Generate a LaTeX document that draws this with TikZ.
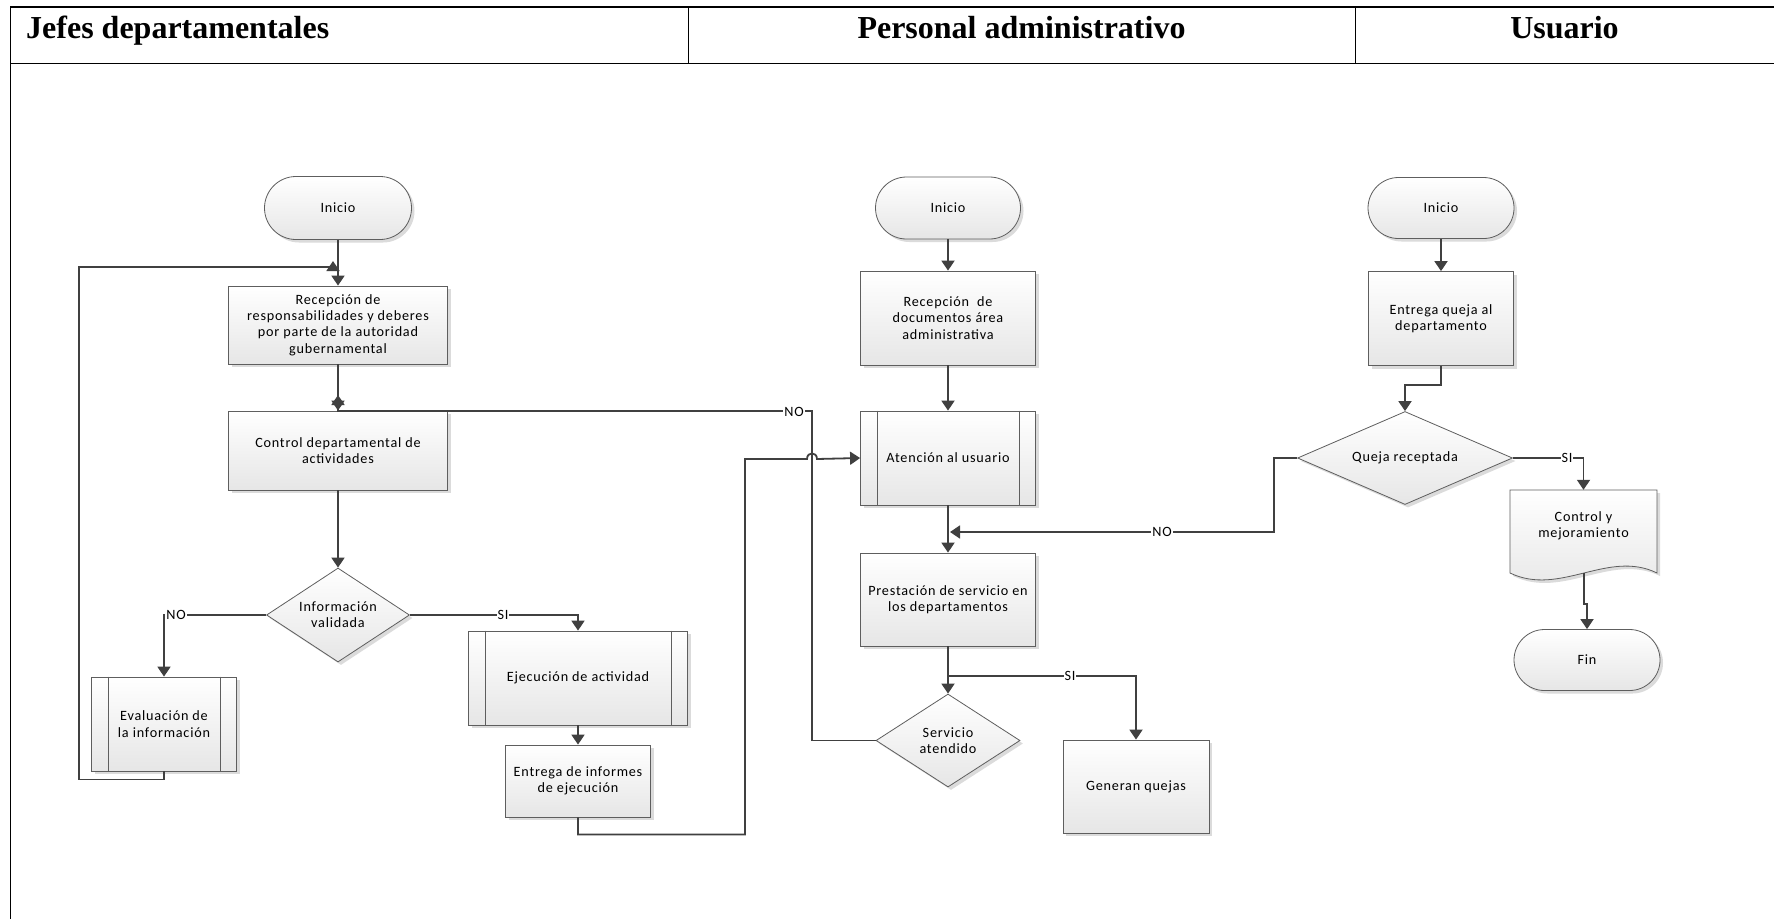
\documentclass[tikz,border=0pt]{standalone}
\usepackage{fontspec}
\usetikzlibrary{shapes.geometric,shapes.misc,shadows,arrows.meta}
\newfontfamily\shapefont{Carlito}[LetterSpace=5.5]
\newfontfamily\headfont{Liberation Serif}
\definecolor{lnk}{HTML}{404040}
\definecolor{edge}{HTML}{5E5E5E}
\definecolor{shadeb}{HTML}{E6E6E6}

\begin{document}
\begin{tikzpicture}[x=1pt,y=-1pt,
  every node/.style={font=\shapefont\fontsize{14.2}{16.3}\selectfont},
  shapebase/.style={draw=edge, line width=0.8pt, top color=white, bottom color=shadeb,
    drop shadow={shadow xshift=3pt, shadow yshift=-3pt, fill=black!14, opacity=1},
    inner sep=0pt, align=center},
  proc/.style={shapebase, rectangle},
  term/.style={shapebase, rounded rectangle},
  decis/.style={shapebase, diamond},
  flow/.style={draw=lnk, line width=1.8pt, line join=miter, -{Triangle[length=10pt,width=13pt]}},
  tag/.style={fill=white, inner sep=1pt},
  head/.style={anchor=base, inner sep=0pt, font=\headfont\bfseries\fontsize{32}{38}\selectfont}
]
\useasboundingbox (0,0) rectangle (1774,919);
\fill[white] (0,0) rectangle (1774,919);

% header of the swimlanes
\draw[line width=1.8pt] (10,7) -- (1774,7);
\draw[line width=1.8pt] (10,63.5) -- (1774,63.5);
\draw[line width=1pt] (688,7) -- (688,63.5);
\draw[line width=1pt] (1355,7) -- (1355,63.5);
\draw[line width=1.3pt] (10.7,6.1) -- (10.7,919);
\node[head, anchor=base west] (h1) at (26,38.5) {Jefes departamentales};
\node[head] (h2) at (1021.5,38.5) {Personal administrativo};
\node[head] (h3) at (1564.5,38.5) {Usuario};

% lane 1: jefes departamentales
\node[term, minimum width=147, minimum height=63] (ini1) at (338,208) {Inicio};
\node[proc, minimum width=219, minimum height=78] (rec1) at (338,325)
  {Recepción de\\responsabilidades y deberes\\por parte de la autoridad\\gubernamental};
\node[proc, minimum width=219, minimum height=79] (ctrl) at (338,450.5)
  {Control departamental de\\actividades};
\node[decis, aspect=1.52, minimum width=143, minimum height=94] (info) at (338,615)
  {Información\\validada};
\node[proc, minimum width=145, minimum height=94] (eval) at (164,724)
  {Evaluación de\\la información};
\node[proc, minimum width=219, minimum height=94] (ejec) at (578,678)
  {Ejecución de actividad};
\node[proc, minimum width=145, minimum height=72] (entr) at (578,781)
  {Entrega de informes\\de ejecución};

% lane 2: personal administrativo
\node[term, minimum width=145, minimum height=62] (ini2) at (948,208) {Inicio};
\node[proc, minimum width=175, minimum height=94] (rec2) at (948,318)
  {Recepción~ de\\documentos área\\administrativa};
\node[proc, minimum width=175, minimum height=94] (aten) at (948,458)
  {Atención al usuario};
\node[proc, minimum width=175, minimum height=93] (prest) at (948,599.5)
  {Prestación de servicio en\\los departamentos};
\node[decis, aspect=1.55, minimum width=144, minimum height=93] (serv) at (948,740.5)
  {Servicio\\atendido};
\node[proc, minimum width=146, minimum height=93] (gen) at (1136,786.5)
  {Generan quejas};

% lane 3: usuario
\node[term, minimum width=146, minimum height=61] (ini3) at (1441,208) {Inicio};
\node[proc, minimum width=145, minimum height=94] (entq) at (1441,318.5)
  {Entrega queja al\\departamento};
\node[decis, aspect=2.3, minimum width=215, minimum height=93] (queja) at (1405,458)
  {Queja receptada};
\path[shapebase] (1510,490) -- (1657,490) -- (1657,573)
  .. controls (1608,549) and (1560,597) .. (1510,573) -- cycle;
\node[minimum width=147, minimum height=83, inner sep=0pt] (cm) at (1583.5,531.5) {};
\node[align=center] (cmtext) at (1583.5,526) {Control y\\mejoramiento};
\node[term, minimum width=146, minimum height=61] (fin) at (1587,660) {Fin};

% side bars of the predefined-process boxes
\foreach \n in {eval,ejec,aten}{
  \draw[edge, line width=0.8pt]
    ([xshift=17pt]\n.north west) -- ([xshift=17pt]\n.south west)
    ([xshift=-17pt]\n.north east) -- ([xshift=-17pt]\n.south east);
}

% free ends of connectors
\coordinate (loopin) at (333,261);
\coordinate (noin) at (338,395);
\coordinate (noq) at (950,532);
\coordinate (sibr) at (948,676);
\coordinate (cmbot) at (1584,573);

% connectors, lane 1
\draw[flow] (ini1.south) -- (rec1.north);
\draw[flow] (rec1.south) -- (ctrl.north);
\draw[flow] (ctrl.south) -- (info.north);
\draw[flow] (info.west) -| (eval.north);
\draw[flow] (info.east) -| (ejec.north);
\draw[flow] (eval.south) -- ++(0,8) -| (79,267) -- (333,267) -- (loopin);
\draw[flow] (ejec.south) -- (entr.north);
\draw[flow] (entr.south) -- ++(0,17) -| (745,459) -- (807,459)
  .. controls (807,451.5) and (817,451.5) .. (817,459) -- (aten.west);
\draw[flow] (serv.west) -- (812,740.5) -- (812,411) -- (338,411) -- (noin);

% connectors, lane 2
\draw[flow] (ini2.south) -- (rec2.north);
\draw[flow] (rec2.south) -- (aten.north);
\draw[flow] (aten.south) -- (prest.north);
\draw[flow] (prest.south) -- (serv.north);
\draw[flow] (sibr) -| (gen.north);

% connectors, lane 3
\draw[flow] (ini3.south) -- (entq.north);
\draw[flow] (entq.south) -- ++(0,19) -| (queja.north);
\draw[flow] (queja.west) -- (1274,458) -- (1274,532) -- (noq);
\draw[flow] (queja.east) -| (cm.north);
\draw[flow] (cmbot) -- (1584,604) -- (1587,604) -- (fin.north);

% branch labels
\node[tag] (l1) at (176,615) {NO};
\node[tag] (l2) at (503,615) {SI};
\node[tag] (l3) at (794,412) {NO};
\node[tag] (l4) at (1070,676) {SI};
\node[tag] (l5) at (1162,532) {NO};
\node[tag] (l6) at (1567,458) {SI};
\end{tikzpicture}
\end{document}
